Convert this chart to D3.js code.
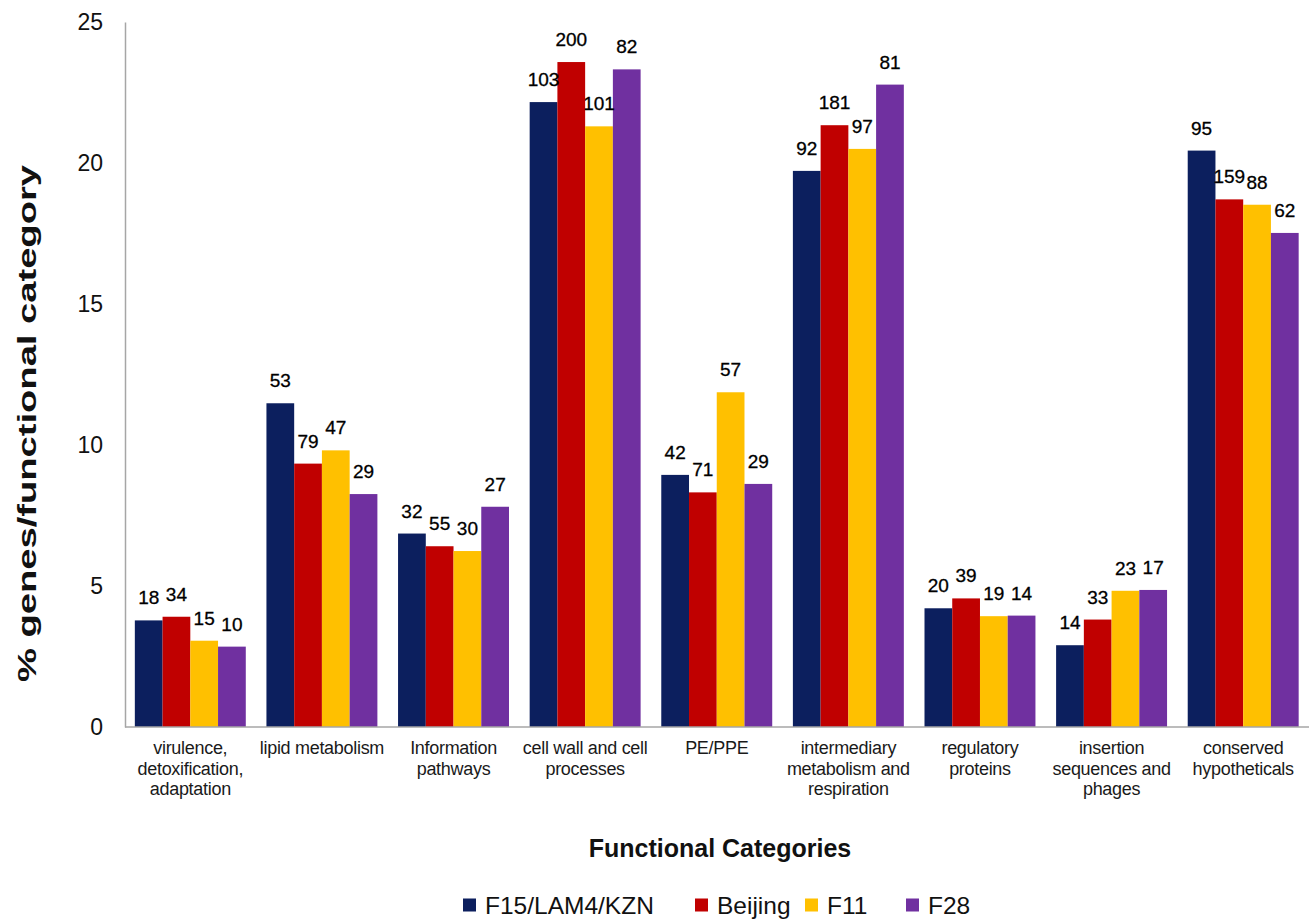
<!DOCTYPE html>
<html>
<head>
<meta charset="utf-8">
<script src="https://cdn.jsdelivr.net/npm/d3@7"></script>
<style>
  html, body { margin: 0; padding: 0; background: #fff; }
  svg { display: block; font-family: "Liberation Sans", Arial, sans-serif; }
</style>
</head>
<body>
<svg id="chart" width="1310" height="921"></svg>
<script>
// Functional categories (line breaks mark wrapped labels)
const categories = [
  "virulence,\ndetoxification,\nadaptation",
  "lipid metabolism",
  "Information\npathways",
  "cell wall and cell\nprocesses",
  "PE/PPE",
  "intermediary\nmetabolism and\nrespiration",
  "regulatory\nproteins",
  "insertion\nsequences and\nphages",
  "conserved\nhypotheticals"
];

const seriesNames = ["F15/LAM4/KZN", "Beijing", "F11", "F28"];
const seriesColors = ["#0c1f5e", "#c00000", "#ffc000", "#7030a0"];

// % genes per functional category
const pctF15     = [3.78, 11.48, 6.86, 22.16, 8.94, 19.72, 4.21, 2.90, 20.44];
const pctBeijing = [3.91,  9.34, 6.41, 23.58, 8.32, 21.34, 4.56, 3.81, 18.71];
const pctF11     = [3.06,  9.81, 6.24, 21.30, 11.87, 20.50, 3.93, 4.83, 18.52];
const pctF28     = [2.85,  8.26, 7.81, 23.32, 8.62, 22.78, 3.95, 4.86, 17.52];

// gene counts shown above each bar
const cntF15     = [18, 53, 32, 103, 42, 92, 20, 14, 95];
const cntBeijing = [34, 79, 55, 200, 71, 181, 39, 33, 159];
const cntF11     = [15, 47, 30, 101, 57, 97, 19, 23, 88];
const cntF28     = [10, 29, 27, 82, 29, 81, 14, 17, 62];

const yTicks = [0, 5, 10, 15, 20, 25];

const pcts = [pctF15, pctBeijing, pctF11, pctF28];
const counts = [cntF15, cntBeijing, cntF11, cntF28];

const rows = [];
categories.forEach((c, i) => {
  seriesNames.forEach((s, j) => {
    rows.push({ cat: c, series: s, idx: j, value: pcts[j][i], count: counts[j][i] });
  });
});

const svg = d3.select("#chart");
const plotLeft = 125, plotRight = 1309, plotTop = 22, plotBottom = 727;

const x = d3.scaleBand().domain(categories).range([plotLeft - 0.5, plotRight])
  .paddingInner(0.157).paddingOuter(0.0785);
const xs = d3.scaleBand().domain(seriesNames).range([0, x.bandwidth()]).padding(0);
const y = d3.scaleLinear().domain([0, 25]).range([plotBottom, plotTop]);
const color = d3.scaleOrdinal().domain(seriesNames).range(seriesColors);

// bars
const g = svg.append("g");
g.selectAll("rect.bar").data(rows).join("rect")
  .attr("class", "bar")
  .attr("x", d => x(d.cat) + xs(d.series))
  .attr("y", d => y(d.value))
  .attr("width", xs.bandwidth())
  .attr("height", d => y(0) - y(d.value))
  .attr("fill", d => color(d.series));

// count labels
g.selectAll("text.val").data(rows).join("text")
  .attr("class", "val")
  .attr("x", d => x(d.cat) + xs(d.series) + xs.bandwidth() / 2)
  .attr("y", d => y(d.value) - 16)
  .attr("text-anchor", "middle")
  .attr("font-size", 19)
  .attr("fill", "#000")
  .attr("stroke", "#000")
  .attr("stroke-width", 0.3)
  .text(d => d.count);

// y axis
const yAxis = d3.axisLeft(y).tickValues(yTicks).tickSize(0).tickPadding(22);
const ya = svg.append("g").attr("transform", `translate(${plotLeft},0)`).call(yAxis);
ya.select(".domain").attr("stroke", "#a6a6a6").attr("stroke-width", 1.5);
ya.selectAll(".tick text").attr("font-size", 23).attr("fill", "#111")
  .attr("font-family", "Liberation Sans, Arial, sans-serif");

// x axis
const xAxis = d3.axisBottom(x).tickSize(0).tickFormat("");
const xa = svg.append("g").attr("transform", `translate(0,${plotBottom})`).call(xAxis);
xa.select(".domain").attr("stroke", "#a6a6a6").attr("stroke-width", 1.5)
  .attr("d", `M${plotLeft},0H${plotRight}`);

// category labels
const catLabels = svg.append("g");
categories.forEach(c => {
  const cx = x(c) + x.bandwidth() / 2;
  const t = catLabels.append("text")
    .attr("x", cx)
    .attr("y", 754)
    .attr("text-anchor", "middle")
    .attr("font-size", 18)
    .attr("letter-spacing", -0.3)
    .attr("fill", "#1a1a1a");
  c.split("\n").forEach((line, k) => {
    t.append("tspan").attr("x", cx)
      .attr("dy", k === 0 ? 0 : 20.5).text(line);
  });
});

// axis titles
svg.append("text")
  .attr("transform", "translate(36,423.5) rotate(-90)")
  .attr("text-anchor", "middle")
  .attr("font-size", 26)
  .attr("font-weight", "bold")
  .attr("fill", "#111")
  .attr("textLength", 517)
  .attr("lengthAdjust", "spacingAndGlyphs")
  .text("% genes/functional category");

svg.append("text")
  .attr("x", 720).attr("y", 857)
  .attr("text-anchor", "middle")
  .attr("font-size", 25)
  .attr("font-weight", "bold")
  .attr("fill", "#111")
  .text("Functional Categories");

// legend
const legendX = [463, 695, 805, 906];
const legend = svg.append("g");
seriesNames.forEach((s, j) => {
  legend.append("rect")
    .attr("x", legendX[j]).attr("y", 898.5)
    .attr("width", 13).attr("height", 13)
    .attr("fill", color(s));
  legend.append("text")
    .attr("x", legendX[j] + 22).attr("y", 914)
    .attr("font-size", 24.5)
    .attr("fill", "#111")
    .text(s);
});
</script>
</body>
</html>
